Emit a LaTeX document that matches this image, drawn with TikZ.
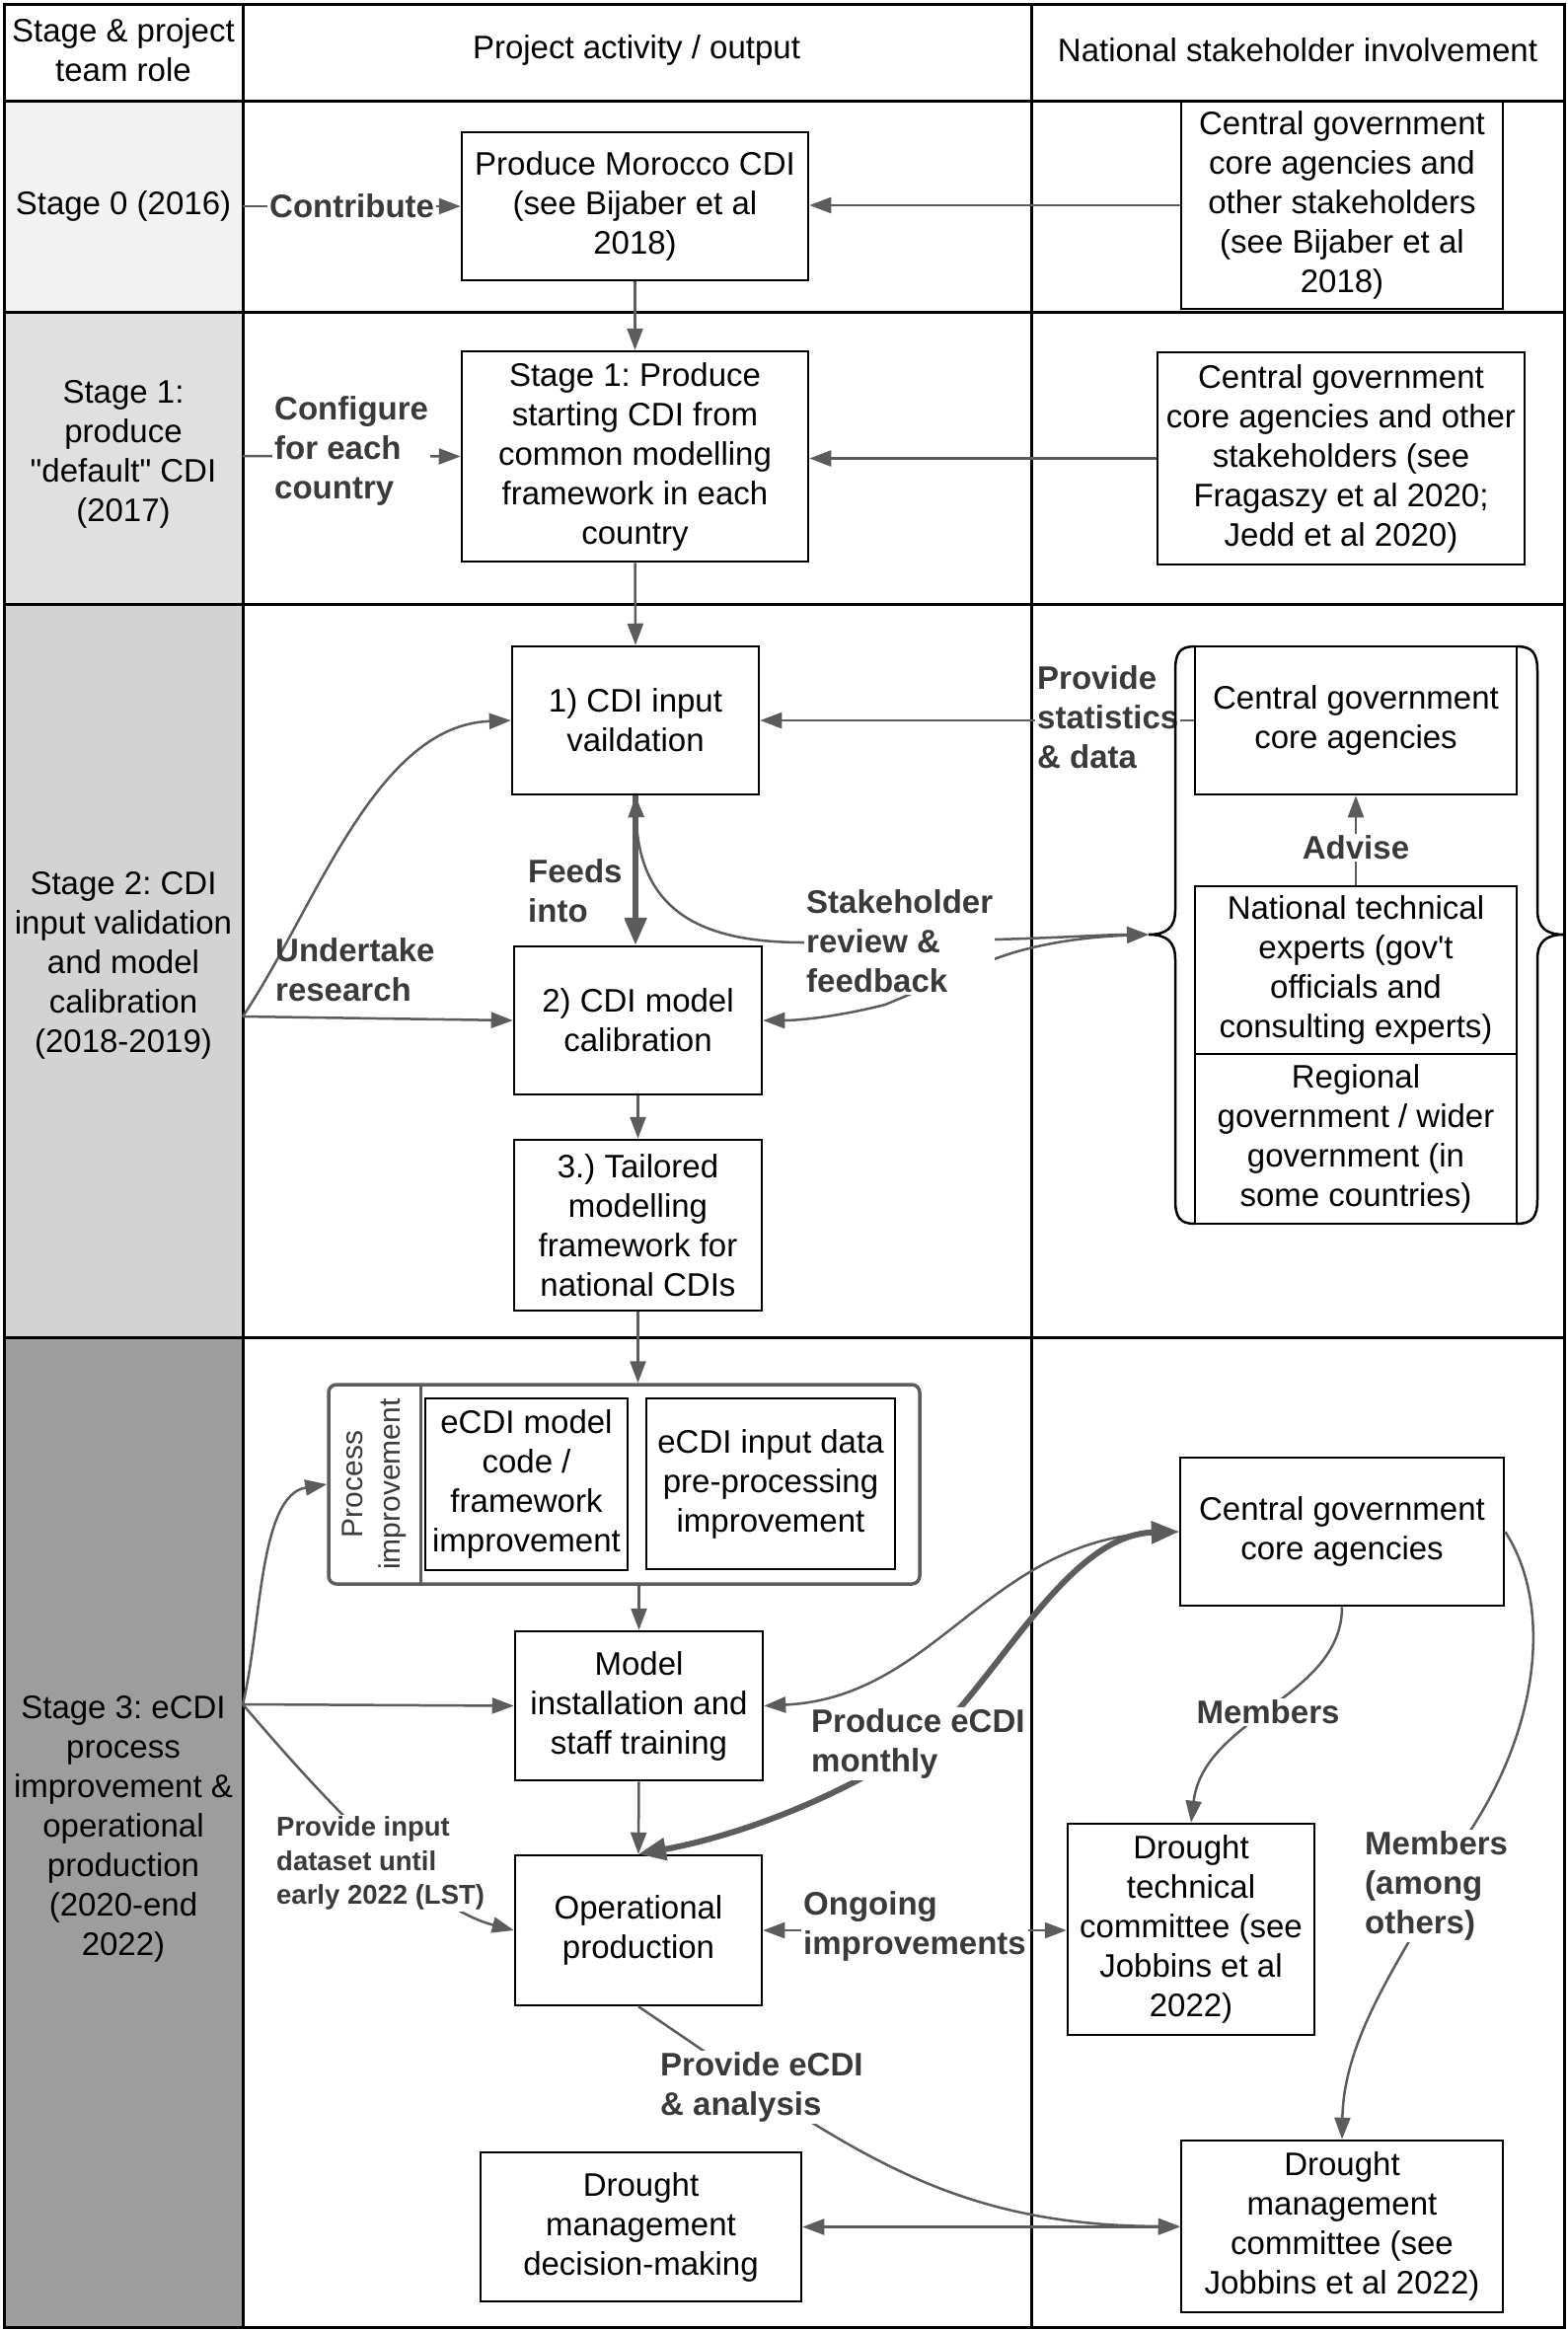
\documentclass[tikz,border=0pt]{standalone}
\usepackage{fontspec}
\setmainfont{Liberation Sans}
\usetikzlibrary{arrows.meta,calc}
\frenchspacing
\definecolor{arrc}{HTML}{5C5C5C}
\definecolor{labc}{HTML}{3A3A3A}
\definecolor{gA}{HTML}{F2F2F2}
\definecolor{gB}{HTML}{E0E0E0}
\definecolor{gC}{HTML}{D3D3D3}
\definecolor{gD}{HTML}{9D9D9D}
\tikzset{
  txt/.style={font=\fontsize{33}{40}\selectfont, align=center, inner sep=0pt},
  box/.style={draw=black, line width=2.5pt, fill=white, inner sep=0pt, font=\fontsize{33}{40}\selectfont, align=center},
  lab/.style={font=\fontsize{33}{40}\selectfont\bfseries, text=labc, align=left, fill=white, inner sep=2pt},
  conn/.style={draw=arrc, line width=2.5pt, -{Triangle[length=22pt,width=16pt]}},
  conntwo/.style={draw=arrc, line width=2.5pt, {Triangle[length=22pt,width=16pt]}-{Triangle[length=22pt,width=16pt]}},
  thickconn/.style={draw=arrc, line width=6pt, -{Triangle[length=28pt,width=22pt]}},
  thickconntwo/.style={draw=arrc, line width=6pt, {Triangle[length=28pt,width=22pt]}-{Triangle[length=28pt,width=22pt]}},
  tline/.style={draw=black, line width=3pt},
  brace/.style={draw=black, line width=2.5pt},
}
% name, x1, y1, x2, y2, text  (pixel coordinates)
\newcommand{\drawbox}[6]{\node[box, minimum width={(#4-#2)*1pt}, minimum height={(#5-#3)*1pt}] (#1) at ({(#2+#4)/2},{(#3+#5)/2}) {#6};}
\begin{document}
\begin{tikzpicture}[x=1pt,y=-1pt]
\useasboundingbox (0,0) rectangle (1589,2362);
% column 1 fills
\fill[gA] (4,102) rectangle (246,316);
\fill[gB] (4,316) rectangle (246,612);
\fill[gC] (4,612) rectangle (246,1355);
\fill[gD] (4,1355) rectangle (246,2358);
% grid
\draw[tline] (4,4) rectangle (1585,2358);
\foreach \yy in {102,316,612,1355} \draw[tline] (4,\yy) -- (1585,\yy);
\draw[tline] (246,4) -- (246,2358);
\draw[tline] (1045,4) -- (1045,2358);

% header
\node[txt] (h1) at (125,51) {Stage \& project\\team role};
\node[txt] (h2) at (645,51) {Project activity / output};
\node[txt] (h3) at (1315,51) {National stakeholder involvement};

% stage labels
\node[txt] (st0) at (125,209) {Stage 0 (2016)};
\node[txt] (st1) at (125,460) {Stage 1:\\produce\\\textquotedbl default\textquotedbl{} CDI\\(2017)};
\node[txt] (st2) at (125,978) {Stage 2: CDI\\input validation\\and model\\calibration\\(2018-2019)};
\node[txt] (st3) at (125,1853) {Stage 3: eCDI\\process\\improvement \&\\operational\\production\\(2020-end\\2022)};

% boxes stage 0
\drawbox{mor}{468}{134}{819}{284}{Produce Morocco CDI\\(see Bijaber et al\\2018)}
\drawbox{cg0}{1197}{103}{1523}{313}{Central government\\core agencies and\\other stakeholders\\(see Bijaber et al\\2018)}
% stage 1
\drawbox{s1b}{468}{356}{819}{569}{Stage 1: Produce\\starting CDI from\\common modelling\\framework in each\\country}
\drawbox{cg1}{1173}{357}{1545}{572}{Central government\\core agencies and other\\stakeholders (see\\Fragaszy et al 2020;\\Jedd et al 2020)}
% stage 2
\drawbox{cdi}{519}{655}{769}{805}{1) CDI input\\vaildation}
\drawbox{cal}{521}{959}{772}{1109}{2) CDI model\\calibration}
\drawbox{tail}{521}{1155}{772}{1328}{3.) Tailored\\modelling\\framework for\\national CDIs}
\drawbox{cg2}{1211}{655}{1537}{805}{Central government\\core agencies}
\drawbox{nat}{1211}{898}{1537}{1068}{National technical\\experts (gov\textquotesingle t\\officials and\\consulting experts)}
\drawbox{reg}{1211}{1068}{1537}{1240}{Regional\\government / wider\\government (in\\some countries)}
% stage 3
\node[draw=arrc, line width=3.5pt, rounded corners=8pt, inner sep=0pt, minimum width=599pt, minimum height=202pt] (pi) at (632.5,1504) {};
\draw[draw=arrc, line width=3pt] (426,1403) -- (426,1605);
\node[rotate=90, font=\fontsize{30}{38}\selectfont, text=labc, align=center, inner sep=0pt] (pit) at (379,1504) {Process\\improvement};
\drawbox{pia}{431}{1417}{636}{1591}{eCDI model\\code /\\framework\\improvement}
\drawbox{pib}{655}{1417}{907}{1590}{eCDI input data\\pre-processing\\improvement}
\drawbox{mit}{522}{1653}{773}{1804}{Model\\installation and\\staff training}
\drawbox{op}{522}{1880}{772}{2032}{Operational\\production}
\drawbox{cg3}{1196}{1477}{1524}{1627}{Central government\\core agencies}
\drawbox{dtc}{1082}{1848}{1332}{2062}{Drought\\technical\\committee (see\\Jobbins et al\\2022)}
\drawbox{dmd}{487}{2181}{812}{2332}{Drought\\management\\decision-making}
\drawbox{dmc}{1197}{2169}{1523}{2343}{Drought\\management\\committee (see\\Jobbins et al 2022)}

% ---- connectors stage 0
\coordinate (o0) at (246,209);
\draw[conn] (o0) -- (mor.west);
\node[lab, anchor=west] (l0) at (271,209) {Contribute};
\draw[conn] (cg0.west) -- (cg0.west -| mor.east);
\draw[conn] (mor.south) -- (s1b.north);
% stage 1
\coordinate (o1) at (246,462);
\draw[conn] (o1) -- (s1b.west);
\node[lab, anchor=west] (l1) at (276,457) {Configure\\for each\\country};
\draw[conn] (cg1.west) -- (cg1.west -| s1b.east);
\draw[conn] (s1b.south) -- (cdi.north);
% stage 2
\coordinate (o2) at (246,1030);
\draw[conn] (o2) .. controls (320,920) and (380,735) .. (cdi.west);
\draw[conn] (o2) -- (cal.west);
\node[lab, fill=none, anchor=west] (l2) at (277,983) {Undertake\\research};
\draw[thickconn] (cdi.south) -- (cdi.south |- cal.north);
\node[lab, anchor=west] (l3) at (533,903) {Feeds\\into};
\draw[conn] (cg2.west) -- (cdi.east);
\coordinate (bt) at (1164,947);
\draw[conntwo] (cdi.south) .. controls (648,930) and (720,955) .. (815,955) -- (1008,952) .. controls (1080,950) and (1120,947) .. (bt);
\draw[conntwo] (bt) .. controls (1080,950) and (1030,962) .. (1000,975) -- (897,1018) .. controls (850,1030) and (810,1034) .. (cal.east);
\node[lab, anchor=west] (l4) at (815,954) {Stakeholder\\review \&\\feedback};
\node[lab, anchor=west] (l5) at (1049,727) {Provide\\statistics\\\& data};
\draw[conn] (nat.north) -- (cg2.south);
\node[lab, align=center] (l6) at (1374,859) {Advise};
\draw[conn] (cal.south) -- (tail.north);
% brace
\draw[brace] (1211,655) .. controls (1195,655) and (1191,662) .. (1191,680) -- (1191,922) .. controls (1191,940) and (1182,947) .. (1164,947) .. controls (1182,947) and (1191,954) .. (1191,972) -- (1191,1215) .. controls (1191,1233) and (1195,1240) .. (1211,1240);
\draw[brace] (1537,655) .. controls (1553,655) and (1558,662) .. (1558,680) -- (1558,922) .. controls (1558,940) and (1567,947) .. (1585,947) .. controls (1567,947) and (1558,954) .. (1558,972) -- (1558,1215) .. controls (1558,1233) and (1553,1240) .. (1537,1240);

% stage 3
\draw[conn] (tail.south) -- (tail.south |- pi.north);
\draw[conn] (mit.north |- pi.south) -- (mit.north);
\coordinate (o3) at (246,1727);
\draw[conn] (o3) -- (mit.west);
\draw[conn] (o3) .. controls (265,1650) and (262,1515) .. (pi.west);
\draw[conn] (o3) .. controls (300,1790) and (420,1930) .. (op.west);
\node[lab, font=\fontsize{27.5}{34.5}\selectfont\bfseries, anchor=west] (l7) at (278,1888) {Provide input\\dataset until\\early 2022 (LST)};
\draw[conn] (mit.south) -- (op.north);
\draw[conntwo] (mit.east) .. controls (950,1720) and (1000,1560) .. (cg3.west);
\draw[thickconntwo] (op.north) .. controls (760,1858) and (880,1810) .. (960,1745) .. controls (1025,1675) and (1090,1555) .. (cg3.west);
\node[lab, anchor=west] (l8) at (820,1767) {Produce eCDI\\monthly};
\draw[conn] (cg3.south) .. controls (1360,1720) and (1220,1740) .. (dtc.north);
\node[lab, align=center] (l9) at (1285,1735) {Members};
\draw[conn] (cg3.east) .. controls (1570,1620) and (1565,1740) .. (1490,1855) .. controls (1440,1960) and (1362,2050) .. (dmc.north);
\node[lab, anchor=west] (l10) at (1381,1911) {Members\\(among\\others)};
\draw[conntwo] (op.east) -- (op.east -| dtc.west);
\node[lab, anchor=west] (l11) at (812,1952) {Ongoing\\improvements};
\draw[conn] (op.south) .. controls (850,2170) and (950,2255) .. (dmc.west);
\node[lab, anchor=west] (l12) at (667,2115) {Provide eCDI\\\& analysis};
\draw[conntwo] (dmd.east) -- (dmd.east -| dmc.west);
\end{tikzpicture}
\end{document}
